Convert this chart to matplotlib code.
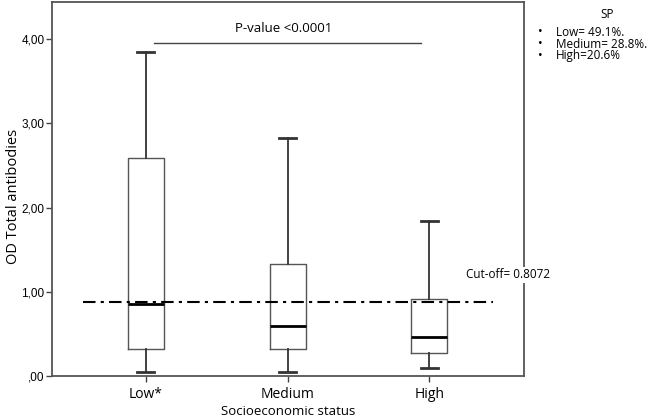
import matplotlib
matplotlib.use("Agg")
import matplotlib.pyplot as plt

categories = ["Low*", "Medium", "High"]
whisker_low = [0.05, 0.05, 0.09]
q1 = [0.32, 0.32, 0.27]
median = [0.85, 0.59, 0.46]
q3 = [2.59, 1.33, 0.91]
whisker_high = [3.85, 2.82, 1.84]
cutoff_value = 0.88
pvalue_y = 3.95
yticks = [0, 1, 2, 3, 4]
ytick_labels = [",00", "1,00", "2,00", "3,00", "4,00"]
legend_title = "SP"
legend_items = ["Low= 49.1%.", "Medium= 28.8%.", "High=20.6%"]

plt.rcParams['font.family'] = ['Open Sans', 'DejaVu Sans']

fig = plt.figure(figsize=(6.49, 4.19), dpi=100)
ax = fig.add_axes([0.0801, 0.1026, 0.7273, 0.8926])

stats = []
for i, c in enumerate(categories):
    stats.append(dict(label=c, whislo=whisker_low[i], q1=q1[i], med=median[i],
                      q3=q3[i], whishi=whisker_high[i], fliers=[]))

ec = "#333333"
ax.bxp(stats, positions=[1, 2, 3], widths=0.255, showfliers=False,
       boxprops=dict(color="#555555", linewidth=1.0),
       medianprops=dict(color="black", linewidth=2.0),
       whiskerprops=dict(color=ec, linewidth=1.3),
       capprops=dict(color=ec, linewidth=2.0),
       capwidths=0.12)

ax.set_xlim(0.336, 3.67)
ax.set_ylim(0, 4.44)

# cut-off line
ax.plot([0.555, 3.45], [cutoff_value, cutoff_value], color="black", lw=1.5,
        linestyle=(0, (6, 2.5, 1.5, 2.5)), zorder=5)

# p-value bracket
ax.plot([1.06, 2.94], [pvalue_y, pvalue_y], color="#444444", lw=1.0)
ax.text(1.97, pvalue_y + 0.18, "P-value <0.0001", ha="center", va="center", fontsize=9.5)

ax.set_yticks(yticks)
ax.set_yticklabels(ytick_labels, fontsize=8.5, family=['Liberation Sans'])
ax.set_xticks([1, 2, 3])
ax.set_xticklabels(categories, fontsize=10)
ax.tick_params(axis='both', direction='out', length=4, width=1.0, color="#444444")
ax.tick_params(axis='y', pad=1.5)
ax.tick_params(axis='x', pad=4)
ax.set_ylabel("OD Total antibodies", fontsize=10.5)
ax.yaxis.set_label_coords(-0.066, 0.48)
ax.set_xlabel("Socioeconomic status", fontsize=9.5, labelpad=2)
for s in ax.spines.values():
    s.set_color("#555555")
    s.set_linewidth(1.3)

# Cut-off label, drawn over the right spine
fig.text(466 / 649, 1 - 275 / 419, "Cut-off= 0.8072", fontsize=8.5, ha="left", va="center",
         bbox=dict(facecolor="white", edgecolor="none", pad=1.0), zorder=10)

# Side annotation
fig.text(607 / 649, 1 - 15 / 419, legend_title, fontsize=8.5, ha="center", va="center")
for i, item in enumerate(legend_items):
    y = 1 - (32 + 12 * i) / 419
    fig.text(540 / 649, y, "•", fontsize=9, ha="center", va="center")
    fig.text(556 / 649, y, item, fontsize=8.5, ha="left", va="center")

fig.savefig("out.png", dpi=100)
